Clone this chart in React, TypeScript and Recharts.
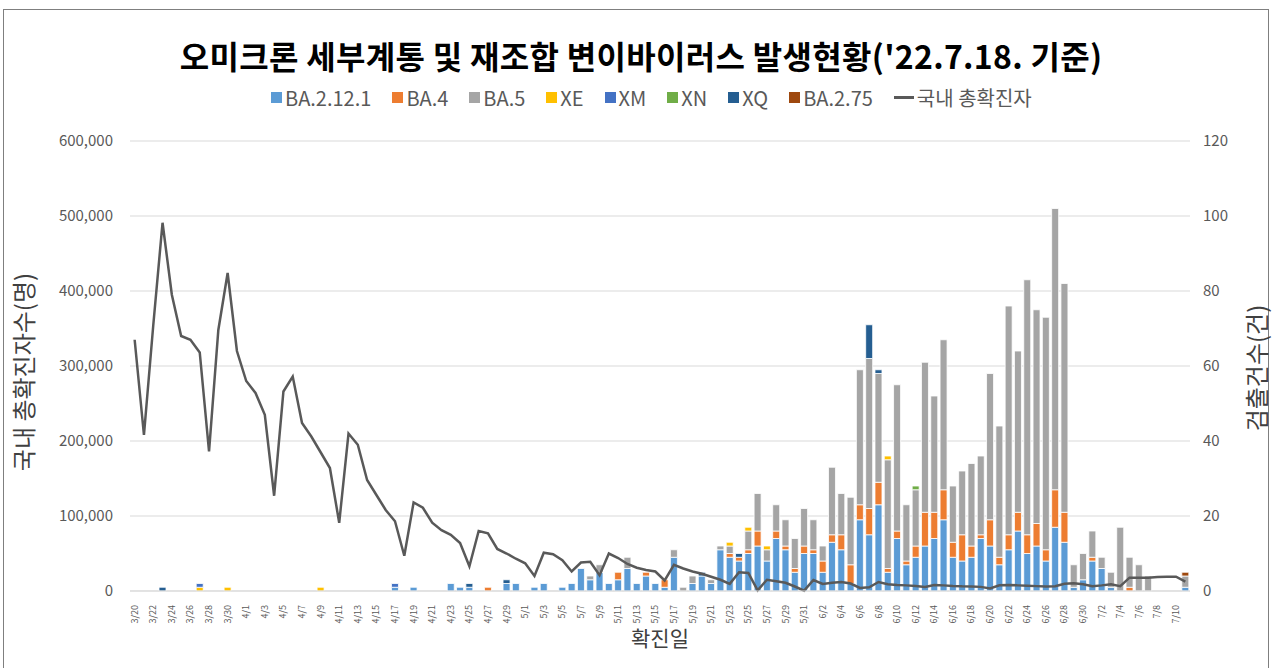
import React from "react";
import { ComposedChart, Bar, Line, XAxis, YAxis, CartesianGrid } from "recharts";

const dates = [
  "3/20", "3/21", "3/22", "3/23", "3/24", "3/25", "3/26", "3/27", "3/28", "3/29",
  "3/30", "3/31", "4/1", "4/2", "4/3", "4/4", "4/5", "4/6", "4/7", "4/8",
  "4/9", "4/10", "4/11", "4/12", "4/13", "4/14", "4/15", "4/16", "4/17", "4/18",
  "4/19", "4/20", "4/21", "4/22", "4/23", "4/24", "4/25", "4/26", "4/27", "4/28",
  "4/29", "4/30", "5/1", "5/2", "5/3", "5/4", "5/5", "5/6", "5/7", "5/8",
  "5/9", "5/10", "5/11", "5/12", "5/13", "5/14", "5/15", "5/16", "5/17", "5/18",
  "5/19", "5/20", "5/21", "5/22", "5/23", "5/24", "5/25", "5/26", "5/27", "5/28",
  "5/29", "5/30", "5/31", "6/1", "6/2", "6/3", "6/4", "6/5", "6/6", "6/7",
  "6/8", "6/9", "6/10", "6/11", "6/12", "6/13", "6/14", "6/15", "6/16", "6/17",
  "6/18", "6/19", "6/20", "6/21", "6/22", "6/23", "6/24", "6/25", "6/26", "6/27",
  "6/28", "6/29", "6/30", "7/1", "7/2", "7/3", "7/4", "7/5", "7/6", "7/7",
  "7/8", "7/9", "7/10", "7/11",
];

// 국내 총확진자 (left axis)
const totalCases = [
  335000, 208000, 354000, 491000, 395000, 340000, 335000, 318000, 186000, 348000,
  424000, 320000, 280000, 264000, 235000, 127000, 266000, 286000, 224000, 206000,
  185000, 164000, 91000, 210000, 195000, 148000, 128000, 108000, 93000, 47000,
  118000, 111000, 91000, 81000, 75000, 64000, 33000, 80000, 77000, 56000,
  50000, 43000, 37000, 20000, 51000, 49000, 41000, 26000, 38000, 39000,
  21000, 50000, 44000, 36000, 31000, 28000, 26000, 14000, 35000, 30000,
  26000, 23000, 19000, 15000, 9500, 25000, 24000, 1000, 15000, 13000,
  11000, 6000, 500, 14700, 9500, 11000, 12000, 10000, 4000, 5000,
  12000, 9000, 8000, 7500, 6700, 5500, 8000, 7500, 6700, 6200,
  6000, 5500, 3500, 7700, 8000, 7500, 7000, 6500, 6000, 6300,
  9600, 10400, 9000, 6500, 7500, 9000, 6500, 17800, 17800, 17800,
  18700, 19000, 19000, 12400,
];

// 검출건수 (right axis)
const ba2121 = [
  0, 0, 0, 0, 0, 0, 0, 0, 0, 0,
  0, 0, 0, 0, 0, 0, 0, 0, 0, 0,
  0, 0, 0, 0, 0, 0, 0, 0, 1, 0,
  1, 0, 0, 0, 2, 1, 1, 0, 0, 0,
  2, 2, 0, 1, 2, 0, 1, 2, 6, 3,
  5, 2, 3, 6, 2, 4, 2, 1, 9, 0,
  2, 4, 2, 11, 9, 8, 10, 12, 8, 14,
  11, 5, 10, 10, 5, 13, 11, 2, 19, 15,
  23, 5, 14, 7, 9, 12, 14, 19, 9, 8,
  9, 14, 12, 7, 11, 16, 10, 12, 8, 17,
  13, 1, 3, 8, 6, 1, 0, 0, 0, 0,
  0, 0, 0, 1,
];
const ba4 = [
  0, 0, 0, 0, 0, 0, 0, 0, 0, 0,
  0, 0, 0, 0, 0, 0, 0, 0, 0, 0,
  0, 0, 0, 0, 0, 0, 0, 0, 0, 0,
  0, 0, 0, 0, 0, 0, 0, 0, 1, 0,
  0, 0, 0, 0, 0, 0, 0, 0, 0, 0,
  0, 0, 2, 0, 0, 1, 0, 2, 0, 0,
  0, 0, 0, 0, 1, 1, 1, 4, 0, 2,
  1, 1, 2, 1, 3, 2, 4, 5, 4, 7,
  6, 1, 2, 1, 3, 9, 7, 8, 4, 7,
  3, 1, 7, 2, 4, 5, 5, 6, 3, 10,
  8, 0, 0, 1, 0, 0, 0, 1, 0, 0,
  0, 0, 0, 0,
];
const ba5 = [
  0, 0, 0, 0, 0, 0, 0, 0, 0, 0,
  0, 0, 0, 0, 0, 0, 0, 0, 0, 0,
  0, 0, 0, 0, 0, 0, 0, 0, 0, 0,
  0, 0, 0, 0, 0, 0, 0, 0, 0, 0,
  0, 0, 0, 0, 0, 0, 0, 0, 0, 1,
  2, 0, 0, 3, 0, 0, 0, 0, 2, 1,
  2, 0, 1, 1, 2, 0, 5, 10, 3, 7,
  7, 8, 10, 8, 4, 18, 11, 18, 36, 40,
  29, 29, 39, 15, 15, 40, 31, 40, 15, 17,
  22, 21, 39, 35, 61, 43, 68, 57, 62, 75,
  61, 6, 7, 7, 3, 4, 17, 8, 7, 4,
  0, 0, 0, 3,
];
const xe = [
  0, 0, 0, 0, 0, 0, 0, 1, 0, 0,
  1, 0, 0, 0, 0, 0, 0, 0, 0, 0,
  1, 0, 0, 0, 0, 0, 0, 0, 0, 0,
  0, 0, 0, 0, 0, 0, 0, 0, 0, 0,
  0, 0, 0, 0, 0, 0, 0, 0, 0, 0,
  0, 0, 0, 0, 0, 0, 0, 0, 0, 0,
  0, 0, 0, 0, 1, 0, 1, 0, 1, 0,
  0, 0, 0, 0, 0, 0, 0, 0, 0, 0,
  0, 1, 0, 0, 0, 0, 0, 0, 0, 0,
  0, 0, 0, 0, 0, 0, 0, 0, 0, 0,
  0, 0, 0, 0, 0, 0, 0, 0, 0, 0,
  0, 0, 0, 0,
];
const xm = [
  0, 0, 0, 0, 0, 0, 0, 1, 0, 0,
  0, 0, 0, 0, 0, 0, 0, 0, 0, 0,
  0, 0, 0, 0, 0, 0, 0, 0, 1, 0,
  0, 0, 0, 0, 0, 0, 0, 0, 0, 0,
  0, 0, 0, 0, 0, 0, 0, 0, 0, 0,
  0, 0, 0, 0, 0, 0, 0, 0, 0, 0,
  0, 0, 0, 0, 0, 0, 0, 0, 0, 0,
  0, 0, 0, 0, 0, 0, 0, 0, 0, 0,
  0, 0, 0, 0, 0, 0, 0, 0, 0, 0,
  0, 0, 0, 0, 0, 0, 0, 0, 0, 0,
  0, 0, 0, 0, 0, 0, 0, 0, 0, 0,
  0, 0, 0, 0,
];
const xn = [
  0, 0, 0, 0, 0, 0, 0, 0, 0, 0,
  0, 0, 0, 0, 0, 0, 0, 0, 0, 0,
  0, 0, 0, 0, 0, 0, 0, 0, 0, 0,
  0, 0, 0, 0, 0, 0, 0, 0, 0, 0,
  0, 0, 0, 0, 0, 0, 0, 0, 0, 0,
  0, 0, 0, 0, 0, 0, 0, 0, 0, 0,
  0, 0, 0, 0, 0, 0, 0, 0, 0, 0,
  0, 0, 0, 0, 0, 0, 0, 0, 0, 0,
  0, 0, 0, 0, 1, 0, 0, 0, 0, 0,
  0, 0, 0, 0, 0, 0, 0, 0, 0, 0,
  0, 0, 0, 0, 0, 0, 0, 0, 0, 0,
  0, 0, 0, 0,
];
const xq = [
  0, 0, 0, 1, 0, 0, 0, 0, 0, 0,
  0, 0, 0, 0, 0, 0, 0, 0, 0, 0,
  0, 0, 0, 0, 0, 0, 0, 0, 0, 0,
  0, 0, 0, 0, 0, 0, 1, 0, 0, 0,
  1, 0, 0, 0, 0, 0, 0, 0, 0, 0,
  0, 0, 0, 0, 0, 0, 0, 0, 0, 0,
  0, 1, 0, 0, 0, 1, 0, 0, 0, 0,
  0, 0, 0, 0, 0, 0, 0, 0, 0, 9,
  1, 0, 0, 0, 0, 0, 0, 0, 0, 0,
  0, 0, 0, 0, 0, 0, 0, 0, 0, 0,
  0, 0, 0, 0, 0, 0, 0, 0, 0, 0,
  0, 0, 0, 0,
];
const ba275 = [
  0, 0, 0, 0, 0, 0, 0, 0, 0, 0,
  0, 0, 0, 0, 0, 0, 0, 0, 0, 0,
  0, 0, 0, 0, 0, 0, 0, 0, 0, 0,
  0, 0, 0, 0, 0, 0, 0, 0, 0, 0,
  0, 0, 0, 0, 0, 0, 0, 0, 0, 0,
  0, 0, 0, 0, 0, 0, 0, 0, 0, 0,
  0, 0, 0, 0, 0, 0, 0, 0, 0, 0,
  0, 0, 0, 0, 0, 0, 0, 0, 0, 0,
  0, 0, 0, 0, 0, 0, 0, 0, 0, 0,
  0, 0, 0, 0, 0, 0, 0, 0, 0, 0,
  0, 0, 0, 0, 0, 0, 0, 0, 0, 0,
  0, 0, 0, 1,
];

const leftTicks = [0, 100000, 200000, 300000, 400000, 500000, 600000];
const rightTicks = [0, 20, 40, 60, 80, 100, 120];

const series = [
  { key: "BA.2.12.1", values: ba2121, color: "#5B9BD5" },
  { key: "BA.4", values: ba4, color: "#ED7D31" },
  { key: "BA.5", values: ba5, color: "#A5A5A5" },
  { key: "XE", values: xe, color: "#FFC000" },
  { key: "XM", values: xm, color: "#4472C4" },
  { key: "XN", values: xn, color: "#70AD47" },
  { key: "XQ", values: xq, color: "#255E91" },
  { key: "BA.2.75", values: ba275, color: "#9E480E" },
];

const data = dates.map((d, i) => {
  const row: Record<string, string | number> = { date: d, total: totalCases[i] };
  series.forEach((s) => {
    row[s.key] = s.values[i];
  });
  return row;
});

const FONT = '"Noto Sans CJK KR", "Noto Sans", sans-serif';
const TEXT = "#595959";

const DateTick = ({ x, y, payload }: any) => (
  <text
    x={x}
    y={y}
    transform={`rotate(-90, ${x}, ${y})`}
    textAnchor="end"
    dx={-6}
    dy={3}
    fontSize={9}
    fill={TEXT}
    fontFamily={FONT}
  >
    {payload.value}
  </text>
);

export default function App() {
  return (
    <div
      style={{
        position: "absolute",
        left: 0,
        top: 0,
        width: 1273,
        height: 668,
        background: "#fff",
        fontFamily: FONT,
        overflow: "hidden",
      }}
    >
      <div
        style={{
          position: "absolute",
          left: 3,
          top: 9,
          width: 1266,
          height: 680,
          border: "1px solid #7f7f7f",
          boxSizing: "border-box",
        }}
      />
      <div
        style={{
          position: "absolute",
          left: 0,
          top: 32,
          width: 1282,
          textAlign: "center",
          fontSize: 32,
          fontWeight: 700,
          color: "#000",
          letterSpacing: 0.3,
        }}
      >
        오미크론 세부계통 및 재조합 변이바이러스 발생현황('22.7.18. 기준)
      </div>
      <div
        style={{
          position: "absolute",
          left: 271,
          top: 83,
          display: "flex",
          alignItems: "center",
          fontSize: 20,
          color: TEXT,
          whiteSpace: "nowrap",
        }}
      >
        {series.map((s) => (
          <div key={s.key} style={{ display: "flex", alignItems: "center", marginRight: 21 }}>
            <div style={{ width: 11, height: 11, background: s.color, marginRight: 3 }} />
            <span>{s.key}</span>
          </div>
        ))}
        <div style={{ display: "flex", alignItems: "center" }}>
          <div style={{ width: 20, height: 2.5, background: TEXT, marginRight: 3 }} />
          <span>국내 총확진자</span>
        </div>
      </div>
      <div
        style={{
          position: "absolute",
          left: 22,
          top: 372,
          transform: "translate(-50%, -50%) rotate(-90deg)",
          fontSize: 24,
          color: "#404040",
          whiteSpace: "nowrap",
        }}
      >
        국내 총확진자수(명)
      </div>
      <div
        style={{
          position: "absolute",
          left: 1255,
          top: 368,
          transform: "translate(-50%, -50%) rotate(-90deg)",
          fontSize: 24,
          color: "#404040",
          whiteSpace: "nowrap",
        }}
      >
        검출건수(건)
      </div>
      <div
        style={{
          position: "absolute",
          left: 660,
          top: 637,
          transform: "translate(-50%, -50%)",
          fontSize: 21,
          color: "#404040",
          whiteSpace: "nowrap",
        }}
      >
        확진일
      </div>
      <div style={{ position: "absolute", left: 0, top: 0 }}>
        <ComposedChart
          width={1273}
          height={668}
          data={data}
          margin={{ top: 141, right: 33, bottom: 37, left: 50 }}
          barCategoryGap="12%"
        >
          <CartesianGrid yAxisId="left" vertical={false} stroke="#D9D9D9" />
          <XAxis
            dataKey="date"
            interval={1}
            height={40}
            tick={<DateTick />}
            tickLine={false}
            axisLine={{ stroke: "#D9D9D9" }}
          />
          <YAxis
            yAxisId="left"
            orientation="left"
            width={80}
            domain={[0, 600000]}
            ticks={leftTicks}
            axisLine={false}
            tickLine={false}
            tickMargin={11}
            tickFormatter={(v: number) => v.toLocaleString("en-US")}
            tick={{ fontSize: 15, fill: TEXT, fontFamily: FONT }}
          />
          <YAxis
            yAxisId="right"
            orientation="right"
            width={50}
            domain={[0, 120]}
            ticks={rightTicks}
            axisLine={false}
            tickLine={false}
            tickMargin={7}
            tick={{ fontSize: 15, fill: TEXT, fontFamily: FONT }}
          />
          {series.map((s) => (
            <Bar
              key={s.key}
              yAxisId="right"
              dataKey={s.key}
              stackId="v"
              fill={s.color}
              stroke="#fff"
              strokeWidth={0.8}
              isAnimationActive={false}
            />
          ))}
          <Line
            yAxisId="left"
            dataKey="total"
            type="linear"
            stroke={TEXT}
            strokeWidth={2.5}
            dot={false}
            isAnimationActive={false}
          />
        </ComposedChart>
      </div>
    </div>
  );
}
